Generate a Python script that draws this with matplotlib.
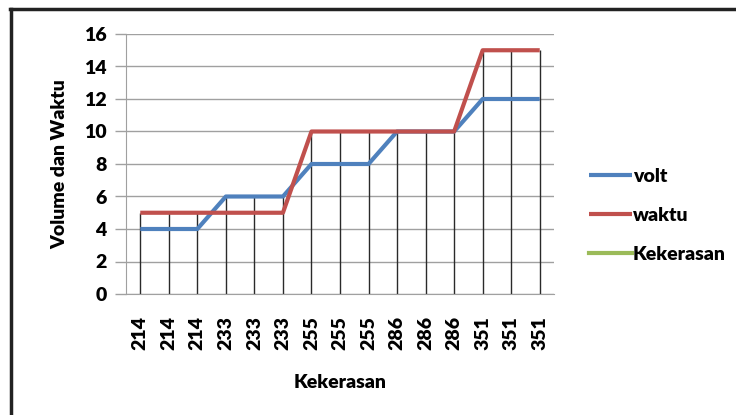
import matplotlib
matplotlib.use("Agg")
import matplotlib.pyplot as plt
from matplotlib.lines import Line2D
import numpy as np

categories = ["214", "214", "214", "233", "233", "233", "255", "255", "255",
              "286", "286", "286", "351", "351", "351"]
volt = [4, 4, 4, 6, 6, 6, 8, 8, 8, 10, 10, 10, 12, 12, 12]
waktu = [5, 5, 5, 5, 5, 5, 10, 10, 10, 10, 10, 10, 15, 15, 15]
kekerasan = []
yticks = [0, 2, 4, 6, 8, 10, 12, 14, 16]

plt.rcParams['font.family'] = ['Lato', 'DejaVu Sans']
W = "heavy"
FS = 14

fig = plt.figure(figsize=(7.36, 4.15), dpi=100)
ax = fig.add_axes([126/736, 1-294/415, (554-126)/736, (294-34)/415])

x = np.arange(len(categories))
# drop lines
tops = np.maximum(volt, waktu)
ax.vlines(x, 0, tops, colors="#2a2a2a", linewidth=1.0, zorder=2)

ax.plot(x, volt, color="#4F81BD", linewidth=3.0, label="volt", zorder=3,
        solid_capstyle="butt")
ax.plot(x, waktu, color="#C0504D", linewidth=3.0, label="waktu", zorder=4,
        solid_capstyle="butt")
ax.plot(x[:len(kekerasan)], kekerasan, color="#9BBB59", linewidth=3.0,
        label="Kekerasan", zorder=3)

ax.set_xlim(-0.5, len(categories) - 0.5)
ax.set_ylim(0, 16)
ax.set_yticks(yticks)
ax.set_yticklabels([str(t) for t in yticks], fontsize=FS, fontweight=W)
ax.set_xticks(x)
ax.set_xticklabels(categories, rotation=90, fontsize=FS, fontweight=W)
ax.tick_params(axis="y", length=8, width=1, color="#A0A0A0", pad=6)
ax.tick_params(axis="x", length=0, pad=16)
ax.grid(axis="y", color="#A0A0A0", linewidth=1)
ax.set_axisbelow(True)
for s in ["top", "right"]:
    ax.spines[s].set_visible(False)
ax.spines["left"].set_color("#A0A0A0")
ax.spines["bottom"].set_color("#A0A0A0")

ax.set_ylabel("Volume dan Waktu", fontsize=FS, fontweight=W, labelpad=11)
ax.set_xlabel("Kekerasan", fontsize=FS, fontweight=W, labelpad=17)

leg = ax.legend(loc="upper left", bbox_to_anchor=(589/736, 1-168/415),
                bbox_transform=fig.transFigure, frameon=False,
                prop={"size": FS, "weight": W}, handlelength=2.2,
                handletextpad=0.05, labelspacing=1.12, borderpad=0,
                borderaxespad=0)

# figure border lines (top and left)
fig.add_artist(Line2D([10/736, 1.0], [1-9/415, 1-9/415], color="#222222",
                      linewidth=2.5, transform=fig.transFigure))
fig.add_artist(Line2D([11/736, 11/736], [0, 1-9/415], color="#222222",
                      linewidth=2.5, transform=fig.transFigure))

fig.savefig("out.png", dpi=100)
